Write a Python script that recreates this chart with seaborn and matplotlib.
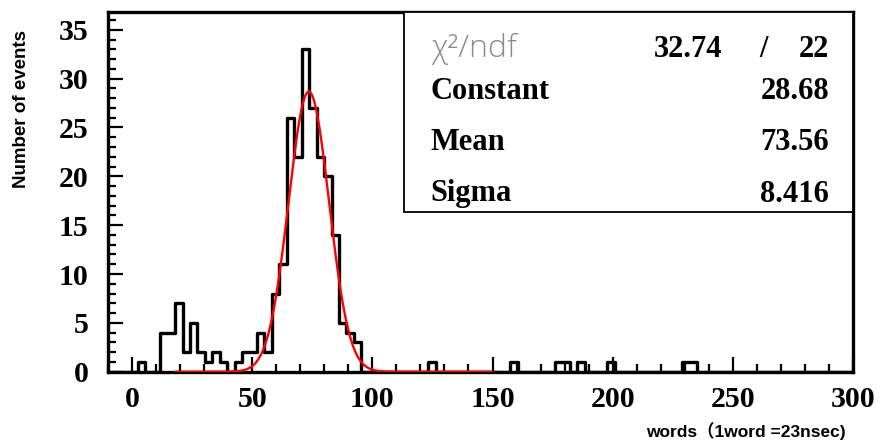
import numpy as np
import pandas as pd
import matplotlib
matplotlib.use("Agg")
import matplotlib.pyplot as plt
from matplotlib.patches import Rectangle
from matplotlib.ticker import MultipleLocator
import seaborn as sns

# ---------------- data ----------------
bin_low, bin_high, n_bins = -10.0, 300.0, 100
counts = [
    0, 0, 0, 0, 1, 0, 0, 4, 4, 7,        # 0-9
    2, 5, 2, 1, 2, 1, 0, 1, 2, 2,        # 10-19
    4, 2, 8, 11, 26, 22, 33, 27, 22, 20,  # 20-29
    14, 5, 4, 3, 0, 0, 0, 0, 0, 0,       # 30-39
    0, 0, 0, 1, 0, 0, 0, 0, 0, 0,        # 40-49
    0, 0, 0, 0, 1, 0, 0, 0, 0, 0,        # 50-59
    1, 1, 0, 1, 0, 0, 0, 1, 0, 0,        # 60-69
    0, 0, 0, 0, 0, 0, 0, 1, 1, 0,        # 70-79
    0, 0, 0, 0, 0, 0, 0, 0, 0, 0,        # 80-89
    0, 0, 0, 0, 0, 0, 0, 0, 0, 0,        # 90-99
]
fit_constant, fit_mean, fit_sigma = 28.68, 73.56, 8.416
fit_low, fit_high = 18.0, 150.0
chi2_text, ndf_text = "32.74", "22"
stat_names = ["Constant", "Mean", "Sigma"]
stat_values = ["28.68", "73.56", "8.416"]
x_ticks = [0, 50, 100, 150, 200, 250, 300]
y_ticks = [0, 5, 10, 15, 20, 25, 30, 35]
y_max = 36.85

# ---------------- figure ----------------
sns.set_theme(style="ticks")
plt.rcParams["font.family"] = ["Liberation Sans", "Noto Sans CJK JP", "DejaVu Sans"]

W, H = 880, 441
fig = plt.figure(figsize=(W / 100, H / 100), dpi=100)
fig.patch.set_facecolor("white")
ax_l, ax_r, ax_t, ax_b = 108, 853, 11.7, 371.7
ax = fig.add_axes([ax_l / W, 1 - ax_b / H, (ax_r - ax_l) / W, (ax_b - ax_t) / H])
ax.set_facecolor("white")

bin_w = (bin_high - bin_low) / n_bins
centers = [bin_low + bin_w * (i + 0.5) for i in range(n_bins)]
hist_df = pd.DataFrame({"words": centers, "events": counts})
sns.histplot(data=hist_df, x="words", weights="events", bins=n_bins,
             binrange=(bin_low, bin_high),
             element="step", fill=False, color="black", linewidth=2.4, ax=ax)

xs = np.linspace(fit_low, fit_high, 500)
fit_df = pd.DataFrame({"words": xs,
                       "fit": fit_constant * np.exp(-0.5 * ((xs - fit_mean) / fit_sigma) ** 2)})
sns.lineplot(data=fit_df, x="words", y="fit", color="red", linewidth=1.7, ax=ax, zorder=5)

ax.set_xlim(bin_low, bin_high)
ax.set_ylim(0, y_max)
ax.set_xlabel("")
ax.set_ylabel("")

for s in ax.spines.values():
    s.set_linewidth(2.4)
    s.set_color("black")
    s.set_visible(True)

ax.set_xticks(x_ticks)
ax.set_yticks(y_ticks)
ax.xaxis.set_minor_locator(MultipleLocator(10))
ax.yaxis.set_minor_locator(MultipleLocator(1))
ax.tick_params(which="both", direction="in", color="black", width=1.6,
               top=False, right=False)
ax.tick_params(which="major", length=11)
ax.tick_params(which="minor", length=5.5)
ax.tick_params(axis="x", which="major", pad=10)
ax.tick_params(axis="y", which="major", pad=14)
ax.set_xticklabels([str(t) for t in x_ticks])
ax.set_yticklabels([str(t) for t in y_ticks])
for lab in ax.get_xticklabels() + ax.get_yticklabels():
    lab.set_fontfamily("Liberation Serif")
    lab.set_fontweight("bold")
    lab.set_fontsize(21.5)
    lab.set_color("black")

# ---------------- stats box ----------------
bx0 = (404 - ax_l) / (ax_r - ax_l)
by0 = (ax_b - 211.7) / (ax_b - ax_t)
ax.add_patch(Rectangle((bx0, by0), 1 - bx0, 1 - by0, transform=ax.transAxes,
                       facecolor="white", edgecolor="black", linewidth=1.3,
                       zorder=6, clip_on=False))

def fx(px):
    return px / W

def fy(py):
    return 1 - py / H

fig.text(fx(431), fy(57), "χ²/ndf", family=["Open Sans", "DejaVu Sans"],
         weight="light", color="#8a8a8a", fontsize=23, ha="left", va="baseline", zorder=7)
serif_kw = dict(family="Liberation Serif", weight="bold", fontsize=22,
                color="black", va="baseline", zorder=7)
fig.text(fx(722), fy(57), chi2_text, ha="right", **serif_kw)
fig.text(fx(764), fy(57), "/", ha="center", **serif_kw)
fig.text(fx(829), fy(57), ndf_text, ha="right", **serif_kw)
row_base = [99, 150, 201.5]
for name, val, yb in zip(stat_names, stat_values, row_base):
    fig.text(fx(430), fy(yb), name, ha="left", **serif_kw)
    fig.text(fx(829), fy(yb), val, ha="right", **serif_kw)

# ---------------- axis titles ----------------
fig.text(fx(21), fy(109), "Number of events", rotation=90, ha="center", va="center",
         fontsize=13.5, weight="bold", color="black")
fig.text(fx(846), fy(431), "words（1word =23nsec)", ha="right", va="center",
         fontsize=12.5, weight="bold", color="black",
         family=["Liberation Sans", "Noto Sans CJK JP", "DejaVu Sans"])

fig.savefig("out.png", dpi=100, facecolor="white")
